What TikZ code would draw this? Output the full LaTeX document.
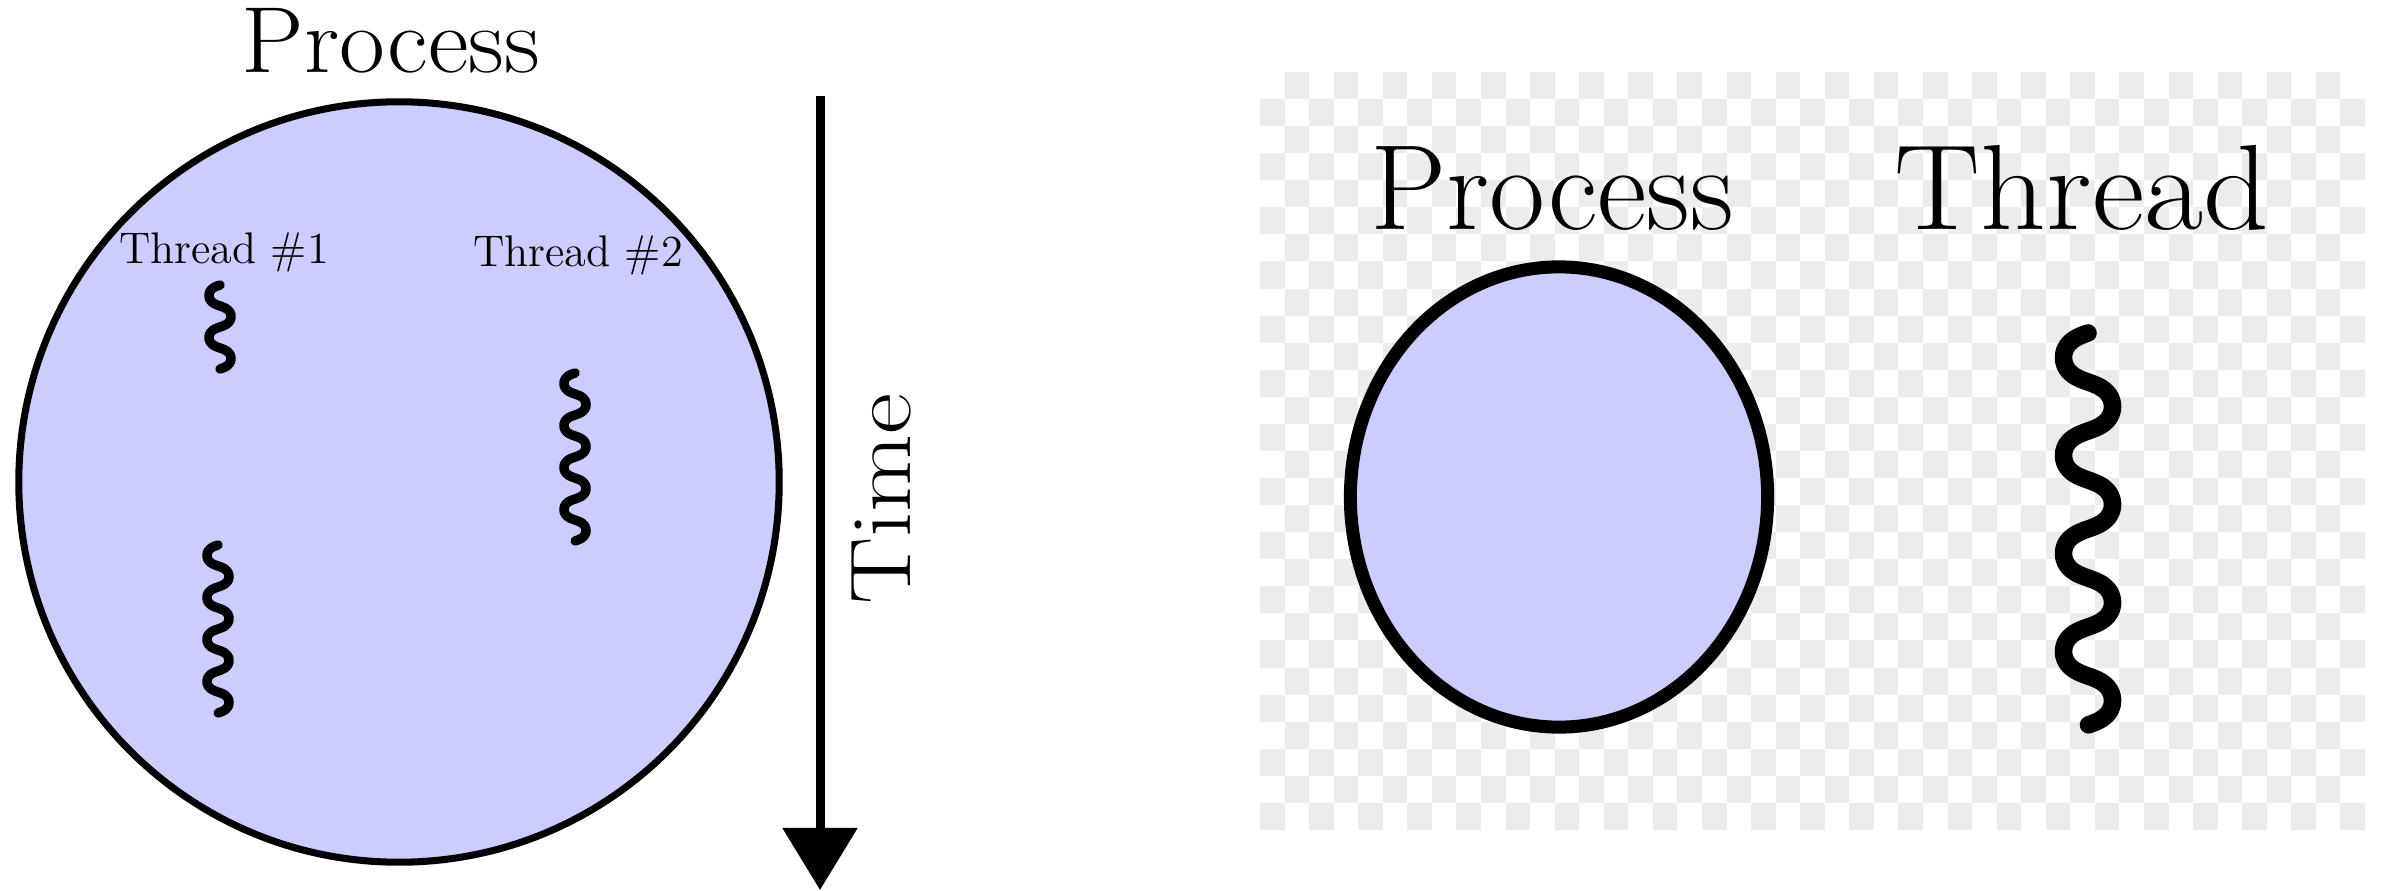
\documentclass[tikz,border=0pt]{standalone}
\usepackage{graphicx}
\usepackage{tikz}
\usetikzlibrary{positioning, arrows.meta, shapes.geometric}

\definecolor{procblue}{RGB}{204,204,255}
\definecolor{checkgray}{RGB}{236,236,236}

\begin{document}
\begin{tikzpicture}[x=0.01cm, y=-0.01cm]

% Define styles
\tikzstyle{procshape} = [draw=black, fill=procblue, inner sep=0pt]
\tikzstyle{heading} = [inner sep=0pt, anchor=base, font=\fontsize{26.7}{30}\selectfont]
\tikzstyle{threadtag} = [inner sep=0pt, anchor=base, font=\fontsize{12.6}{15}\selectfont]
\tikzstyle{legendtext} = [inner sep=0pt, anchor=base, font=\fontsize{34.5}{40}\selectfont]
\tikzstyle{wave} = [line width=2.7pt, line cap=round]
\tikzstyle{bigwave} = [line width=5pt, line cap=round]
\tikzstyle{timearrow} = [line width=0.09cm, -{Triangle[width=0.73cm, length=0.62cm]}]

\useasboundingbox (0,0) rectangle (2382,891);

% Left - one process, two threads
\node[procshape, circle, minimum size=7.6cm, line width=2pt] (proc) at (399,482) {};
\node[heading] (proctitle) at (391,73) {\scalebox{1.06}[1]{Process}};
\node[threadtag] (t1tag) at (224,263) {Thread \#1};
\node[threadtag] (t2tag) at (578,266) {Thread \#2};

% snake = sine with slower crossings, rounder bumps
\draw[wave] plot[domain=0:2, samples=120] ({220-11*sin(\x*360)}, {285+42*\x-1.47*sin(\x*720)});
\draw[wave] plot[domain=0:4, samples=240] ({218-11*sin(\x*360)}, {545+42*\x-1.47*sin(\x*720)});
\draw[wave] plot[domain=0:4, samples=240] ({575-11*sin(\x*360)}, {373+42*\x-1.47*sin(\x*720)});

% Time axis
\coordinate (ttop) at (820,96);
\coordinate (tbot) at (820,890);
\draw[timearrow] (ttop) -- (tbot);
\node[heading, font=\fontsize{24.5}{30}\selectfont, rotate=90] (timelbl) at (910,499) {\scalebox{1.17}[1]{Time}};

% Right - legend on checkerboard
\foreach \r in {0,...,27}{
  \pgfmathtruncatemacro{\cfirst}{mod(\r+1,2)}
  \pgfmathtruncatemacro{\csecond}{\cfirst+2}
  \foreach \c in {\cfirst,\csecond,...,44}
    \fill[checkgray] ({1260+\c*24.556},{72+\r*27.07}) rectangle ++(24.556,27.07);
}

\node[procshape, ellipse, minimum width=4.17cm, minimum height=4.6cm, line width=3.7pt] (procicon) at (1559,497) {};
\node[legendtext] (legproc) at (1552,229) {Process};
\node[legendtext] (legthread) at (2082,229) {\scalebox{1.06}[1]{Thread}};

\draw[bigwave] plot[domain=0:4, samples=240] ({2088-24.5*sin(\x*360)}, {333+98*\x-3.43*sin(\x*720)});

\end{tikzpicture}
\end{document}
